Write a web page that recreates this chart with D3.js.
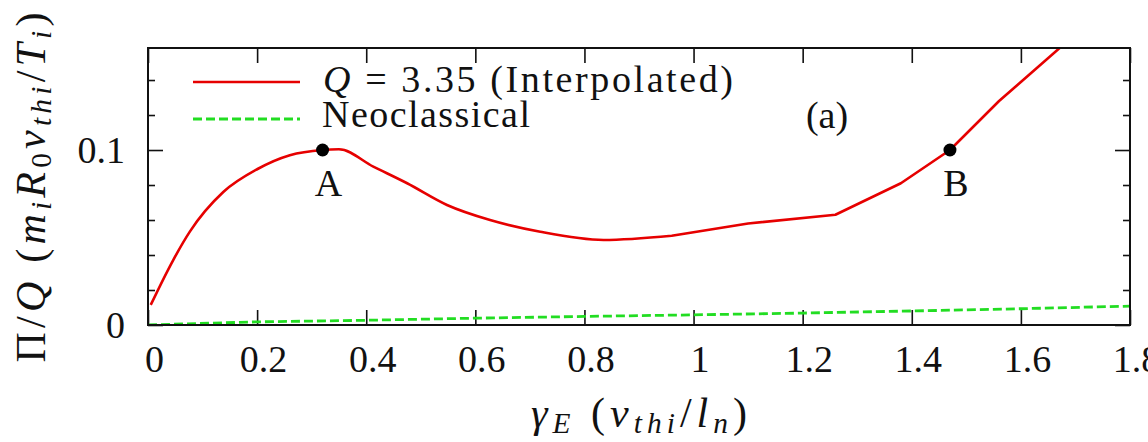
<!DOCTYPE html>
<html>
<head>
<meta charset="utf-8">
<script src="https://cdn.jsdelivr.net/npm/d3@7"></script>
<style>
  body { margin: 0; background: #fff; }
  svg text { font-family: "Liberation Serif", "DejaVu Serif", serif; fill: #111; }
</style>
</head>
<body>
<div id="chart"></div>
<script>
// Momentum flux per heat flux vs. flow shear
var shearQ = [0.005, 0.046, 0.077, 0.138, 0.2, 0.26, 0.32, 0.35, 0.413, 0.475, 0.548, 0.627, 0.719,
              0.835, 0.96, 1.1, 1.26, 1.38, 1.47, 1.56, 1.67, 1.72];
var fluxQ  = [0.0115, 0.037, 0.0535, 0.076, 0.089, 0.097, 0.1, 0.1004, 0.0905, 0.081, 0.0686, 0.06, 0.0533,
              0.0486, 0.051, 0.058, 0.063, 0.081, 0.1, 0.128, 0.158, 0.172];
// beyond this shear the interpolated curve is joined by straight segments
var smoothUpTo = 0.96;

var shearNeo = [0, 0.2, 0.4, 0.6, 0.8, 1.0, 1.2, 1.4, 1.6, 1.8];
var fluxNeo  = [0, 0.0018, 0.0027, 0.0039, 0.0049, 0.0058, 0.0068, 0.008, 0.0093, 0.0108];

var markNames = ["A", "B"];
var markShear = [0.32, 1.47];
var markFlux  = [0.1, 0.1];

var xTicks = [0, 0.2, 0.4, 0.6, 0.8, 1, 1.2, 1.4, 1.6, 1.8];
var yTicks = [0, 0.1];
var yMinorTicks = [0.02, 0.04, 0.06, 0.08, 0.12, 0.14];

var W = 1148, H = 442;
var margin = {top: 48, right: 18, bottom: 117, left: 148};
var iw = W - margin.left - margin.right,
    ih = H - margin.top - margin.bottom;

var RED = "#e60000", GREEN = "#22dd22";
var FS = 38;

var svg = d3.select("#chart").append("svg")
    .attr("width", W).attr("height", H)
    .style("overflow", "visible");

var g = svg.append("g").attr("transform", "translate(" + margin.left + "," + margin.top + ")");

var x = d3.scaleLinear().domain([0, 1.8]).range([0, iw]);
var y = d3.scaleLinear().domain([0, 0.1583]).range([ih, 0]);

g.append("clipPath").attr("id", "plotClip")
  .append("rect").attr("width", iw).attr("height", ih);

// inward ticks, gnuplot style
function styleAxis(sel) {
    sel.select(".domain").remove();
    sel.selectAll(".tick line").attr("stroke", "#111").attr("stroke-width", 1.6);
    sel.selectAll(".tick text").style("font-size", FS + "px").attr("fill", "#111");
}

var fmt = function (d) { return String(+d.toFixed(1)); };

g.append("g").attr("transform", "translate(0," + ih + ")")
  .call(d3.axisBottom(x).tickValues(xTicks).tickFormat(fmt).tickSize(-15).tickPadding(20))
  .call(styleAxis)
  .selectAll(".tick text").attr("dx", 6);

g.append("g")
  .call(d3.axisTop(x).tickValues(xTicks).tickFormat("").tickSize(-15))
  .call(styleAxis);

g.append("g")
  .call(d3.axisLeft(y).tickValues(yTicks).tickFormat(fmt).tickSize(-15).tickPadding(23))
  .call(styleAxis);
g.append("g")
  .call(d3.axisLeft(y).tickValues(yMinorTicks).tickFormat("").tickSize(-7))
  .call(styleAxis);

g.append("g").attr("transform", "translate(" + iw + ",0)")
  .call(d3.axisRight(y).tickValues(yTicks).tickFormat("").tickSize(-15))
  .call(styleAxis);
g.append("g").attr("transform", "translate(" + iw + ",0)")
  .call(d3.axisRight(y).tickValues(yMinorTicks).tickFormat("").tickSize(-7))
  .call(styleAxis);

// curves
var line = d3.line().x(function (d) { return x(d[0]); }).y(function (d) { return y(d[1]); });
var smoothLine = d3.line().curve(d3.curveMonotoneX)
    .x(function (d) { return x(d[0]); }).y(function (d) { return y(d[1]); });

g.append("path")
  .datum(d3.zip(shearNeo, fluxNeo))
  .attr("clip-path", "url(#plotClip)")
  .attr("fill", "none").attr("stroke", GREEN).attr("stroke-width", 2.8)
  .attr("stroke-dasharray", "9,4")
  .attr("d", line);

var qPts = d3.zip(shearQ, fluxQ);
var qPath = smoothLine(qPts.filter(function (d) { return d[0] <= smoothUpTo; })) +
            line(qPts.filter(function (d) { return d[0] >= smoothUpTo; })).replace(/^M/, "L");
g.append("path")
  .attr("clip-path", "url(#plotClip)")
  .attr("fill", "none").attr("stroke", RED).attr("stroke-width", 2.6)
  .attr("stroke-linejoin", "round")
  .attr("d", qPath);

// labelled operating points
var marks = d3.zip(markNames, markShear, markFlux);
g.selectAll(".mark").data(marks).enter().append("circle")
  .attr("class", "mark")
  .attr("cx", function (d) { return x(d[1]); })
  .attr("cy", function (d) { return y(d[2]); })
  .attr("r", 6.5).attr("fill", "#000");
g.selectAll(".markLabel").data(marks).enter().append("text")
  .attr("class", "markLabel")
  .attr("x", function (d) { return x(d[1]) + 6; })
  .attr("y", function (d) { return y(d[2]) + 46; })
  .attr("text-anchor", "middle")
  .style("font-size", FS + "px")
  .text(function (d) { return d[0]; });

// frame
g.append("rect").attr("width", iw).attr("height", ih)
  .attr("fill", "none").attr("stroke", "#111").attr("stroke-width", 2);

// legend
var legend = g.append("g").attr("transform", "translate(45,0)");
legend.append("line").attr("x1", 0).attr("x2", 107).attr("y1", 34).attr("y2", 34)
  .attr("stroke", RED).attr("stroke-width", 2.6);
legend.append("line").attr("x1", 0).attr("x2", 107).attr("y1", 71).attr("y2", 71)
  .attr("stroke", GREEN).attr("stroke-width", 2.8).attr("stroke-dasharray", "9,4");

var l1 = legend.append("text").attr("x", 130).attr("y", 44).style("font-size", FS + "px")
  .attr("textLength", 410).attr("lengthAdjust", "spacing");
l1.append("tspan").attr("font-style", "italic").text("Q");
l1.append("tspan").text(" = 3.35 (Interpolated)");
legend.append("text").attr("x", 129).attr("y", 79).style("font-size", FS + "px")
  .attr("textLength", 208).attr("lengthAdjust", "spacing")
  .text("Neoclassical");

g.append("text").attr("x", 827 - margin.left).attr("y", 80)
  .attr("text-anchor", "middle").style("font-size", FS + "px").text("(a)");

// axis titles
function addPieces(txt, pieces) {
    pieces.forEach(function (p) {
        var t = txt.append("tspan").text(p.t);
        if (p.i) t.attr("font-style", "italic");
        if (p.sub) t.attr("baseline-shift", "-22%").style("font-size", "70%");
    });
}

var xTitle = svg.append("text")
  .attr("x", margin.left + iw / 2).attr("y", 427)
  .attr("text-anchor", "middle").style("font-size", "42px")
  .attr("textLength", 216).attr("lengthAdjust", "spacing");
addPieces(xTitle, [
    {t: "γ", i: true}, {t: "E", i: true, sub: true}, {t: " ("},
    {t: "v", i: true}, {t: "thi", i: true, sub: true}, {t: "/"},
    {t: "l", i: true}, {t: "n", i: true, sub: true}, {t: ")"}
]);

var yTitle = svg.append("text")
  .attr("transform", "translate(45," + (margin.top + ih / 2 + 1) + ") rotate(-90)")
  .attr("text-anchor", "middle").style("font-size", "42px")
  .attr("textLength", 350).attr("lengthAdjust", "spacing");
addPieces(yTitle, [
    {t: "Π/"}, {t: "Q", i: true}, {t: " ("},
    {t: "m", i: true}, {t: "i", i: true, sub: true},
    {t: "R", i: true}, {t: "0", sub: true},
    {t: "v", i: true}, {t: "thi", i: true, sub: true}, {t: "/"},
    {t: "T", i: true}, {t: "i", i: true, sub: true}, {t: ")"}
]);
</script>
</body>
</html>
